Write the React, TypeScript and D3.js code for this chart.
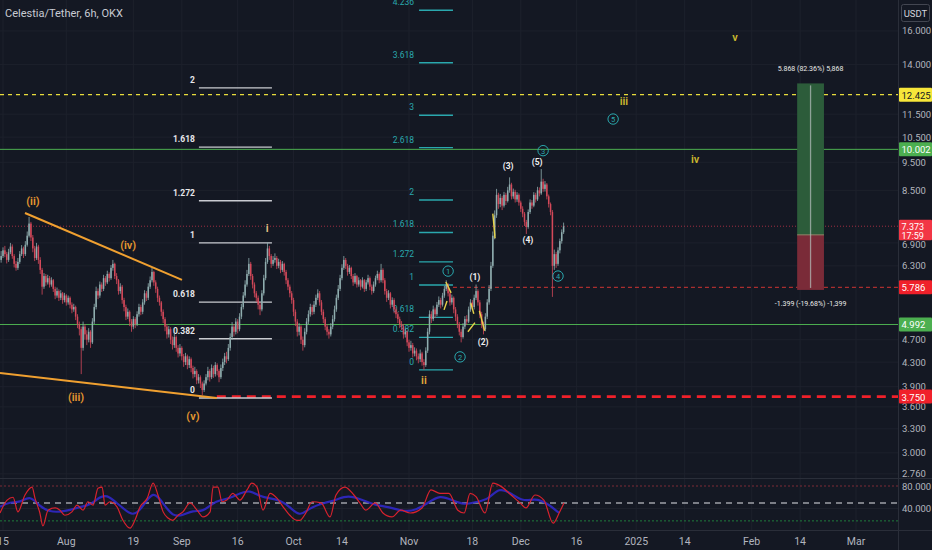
import React from 'react';
import * as d3 from 'd3';

// ---------- DATA ----------
const candleStartUTC = Date.UTC(2024, 6, 14, 12); // 12h candles
const candleStepMs = 12 * 3600 * 1000;
const firstOpen = 6.45;
const closes = [
  6.55,6.70,6.60,6.45,6.65,6.80,6.55,6.35,6.25,6.40,6.60,6.75,6.60,6.85,7.10,7.45,7.05,
  6.75,6.50,6.80,6.45,6.20,5.80,6.05,5.90,6.00,5.85,5.95,5.75,5.60,5.70,5.55,5.65,5.50,5.60,5.45,5.55,5.40,5.30,5.35,5.15,5.00,
  4.90,4.55,4.95,4.80,4.70,4.85,4.65,5.05,5.35,5.70,5.60,5.85,5.75,6.00,5.90,6.10,6.00,6.25,6.35,
  6.05,5.95,5.70,5.80,5.50,5.35,5.15,5.25,5.05,4.95,5.10,5.00,5.20,5.35,5.25,5.45,5.65,5.55,5.80,5.95,6.15,
  5.90,5.75,5.55,5.45,5.25,5.10,4.95,4.80,4.90,4.70,4.60,4.75,4.55,4.45,4.55,4.40,4.30,4.40,4.25,4.35,4.20,4.10,4.15,4.00,4.05,3.95,3.85,
  3.95,4.05,4.15,4.05,4.20,4.10,4.25,4.15,4.05,4.20,4.30,4.40,4.35,4.55,4.75,4.95,4.85,5.05,4.90,5.15,5.35,5.60,5.85,6.10,6.35,
  6.05,5.85,5.65,5.55,5.40,5.30,5.65,6.00,6.40,6.75,
  6.55,6.35,6.45,6.50,6.30,6.40,6.20,6.35,6.15,5.95,5.80,5.65,5.50,5.25,5.05,4.85,4.95,4.70,4.60,
  4.85,5.05,5.20,5.35,5.25,5.40,5.55,5.65,5.45,5.25,5.10,4.95,4.85,4.80,4.95,5.10,5.30,5.55,5.75,6.00,6.25,6.45,
  6.30,6.15,6.25,6.05,5.90,6.05,5.85,5.95,5.80,5.95,5.75,5.90,6.00,5.80,5.70,5.85,6.00,6.10,5.95,6.20,
  5.95,5.70,5.55,5.65,5.40,5.50,5.30,5.20,5.10,5.00,4.95,4.80,4.85,4.65,4.55,4.60,4.45,4.50,4.40,4.35,4.45,4.30,4.25,
  4.50,4.85,5.20,5.10,5.30,5.20,5.40,5.50,5.40,5.60,5.75,5.85,5.65,5.45,5.55,5.30,5.15,5.00,4.85,4.75,
  4.95,5.10,5.05,5.30,5.45,5.35,5.55,5.70,5.45,5.20,5.00,4.90,5.15,5.45,5.75,
  6.30,7.10,7.70,8.35,8.05,8.25,8.00,8.35,8.15,8.50,8.70,8.30,8.45,8.20,8.35,8.10,7.90,7.75,7.50,7.35,
  7.80,8.10,8.00,8.35,8.20,8.50,8.40,8.80,8.55,8.70,8.30,8.05,7.80,6.30,6.60,6.35,6.70,6.95,7.20,7.37,
];
const highs = [
  6.68,6.78,6.82,6.66,6.74,6.90,6.86,6.60,6.42,6.50,6.68,6.84,6.80,6.95,7.22,7.65,7.50,
  7.12,6.82,6.90,6.85,6.52,6.25,6.12,6.10,6.08,6.05,6.02,5.98,5.80,5.78,5.74,5.72,5.68,5.66,5.63,5.60,5.58,5.45,5.42,5.38,5.20,
  5.05,4.95,5.05,5.00,4.88,4.92,4.88,5.12,5.42,5.80,5.76,5.92,5.90,6.08,6.05,6.18,6.14,6.32,6.45,
  6.38,6.12,5.98,5.88,5.84,5.55,5.40,5.32,5.28,5.10,5.16,5.14,5.26,5.42,5.40,5.52,5.72,5.70,5.88,6.04,6.25,
  6.18,5.95,5.80,5.60,5.48,5.30,5.14,5.00,4.96,4.94,4.76,4.82,4.78,4.60,4.62,4.58,4.44,4.46,4.43,4.40,4.38,4.24,4.22,4.18,4.10,4.08,3.98,
  4.00,4.10,4.22,4.18,4.26,4.24,4.30,4.28,4.18,4.26,4.36,4.46,4.48,4.62,4.82,5.04,5.00,5.12,5.10,5.22,5.42,5.68,5.95,6.20,6.50,
  6.40,6.10,5.90,5.70,5.60,5.45,5.72,6.08,6.50,6.92,
  6.82,6.60,6.55,6.62,6.55,6.48,6.45,6.42,6.38,6.20,6.00,5.85,5.70,5.55,5.30,5.10,5.02,4.98,4.76,
  4.92,5.12,5.28,5.42,5.40,5.48,5.62,5.74,5.70,5.50,5.30,5.14,5.00,4.90,5.02,5.18,5.38,5.62,5.84,6.08,6.34,6.55,
  6.50,6.35,6.32,6.28,6.10,6.12,6.08,6.02,5.98,6.02,5.98,5.96,6.08,6.04,5.85,5.92,6.06,6.18,6.14,6.35,
  6.24,6.00,5.75,5.72,5.68,5.56,5.54,5.35,5.25,5.15,5.06,5.00,4.92,4.88,4.70,4.68,4.64,4.56,4.54,4.45,4.52,4.48,4.35,
  4.56,4.92,5.28,5.26,5.38,5.34,5.46,5.58,5.55,5.66,5.82,5.95,5.88,5.70,5.62,5.58,5.35,5.20,5.04,4.90,
  5.02,5.16,5.18,5.36,5.52,5.50,5.62,5.85,5.74,5.50,5.25,5.05,5.22,5.52,5.84,
  6.40,7.22,7.85,8.55,8.42,8.38,8.32,8.45,8.42,8.62,8.95,8.76,8.56,8.52,8.44,8.40,8.16,7.98,7.80,7.56,
  7.88,8.20,8.18,8.44,8.42,8.62,8.60,9.25,8.90,8.82,8.75,8.36,8.10,7.86,6.72,6.66,6.78,7.02,7.28,7.48,
];
const lows = [
  6.38,6.50,6.52,6.36,6.40,6.60,6.48,6.26,6.18,6.20,6.35,6.55,6.50,6.55,6.80,7.05,6.95,
  6.65,6.42,6.45,6.35,6.10,5.62,5.75,5.82,5.85,5.78,5.80,5.68,5.52,5.55,5.48,5.50,5.42,5.45,5.38,5.40,5.32,5.22,5.25,5.08,4.92,
  4.78,4.10,4.50,4.70,4.60,4.65,4.55,4.62,5.00,5.30,5.52,5.55,5.68,5.70,5.82,5.86,5.92,5.96,6.18,
  5.98,5.86,5.62,5.64,5.42,5.26,5.08,5.10,4.96,4.85,4.90,4.92,4.96,5.15,5.18,5.20,5.40,5.48,5.50,5.75,5.90,
  5.82,5.66,5.46,5.38,5.16,5.02,4.86,4.72,4.74,4.62,4.52,4.55,4.48,4.38,4.40,4.33,4.22,4.25,4.18,4.20,4.13,4.03,4.05,3.94,3.95,3.88,3.77,
  3.82,3.92,4.00,3.98,4.02,4.04,4.06,4.08,3.97,4.02,4.15,4.25,4.28,4.32,4.50,4.70,4.76,4.80,4.82,4.86,5.10,5.30,5.55,5.80,6.05,
  5.96,5.76,5.56,5.46,5.30,5.18,5.26,5.60,5.95,6.35,
  6.45,6.25,6.30,6.38,6.22,6.24,6.12,6.15,6.06,5.86,5.72,5.56,5.42,5.16,4.96,4.76,4.78,4.62,4.50,
  4.56,4.80,5.00,5.15,5.18,5.20,5.35,5.50,5.38,5.18,5.02,4.88,4.78,4.72,4.76,4.90,5.05,5.25,5.50,5.70,5.95,6.20,
  6.22,6.06,6.10,5.98,5.82,5.86,5.78,5.80,5.72,5.76,5.68,5.70,5.85,5.72,5.62,5.66,5.80,5.95,5.88,5.90,
  5.88,5.62,5.46,5.50,5.32,5.35,5.22,5.12,5.02,4.92,4.88,4.72,4.74,4.58,4.48,4.50,4.38,4.40,4.33,4.28,4.30,4.24,4.17,
  4.22,4.46,4.80,5.02,5.06,5.12,5.16,5.35,5.32,5.36,5.55,5.70,5.58,5.38,5.40,5.22,5.06,4.92,4.78,4.65,
  4.72,4.90,4.98,5.02,5.25,5.28,5.30,5.50,5.38,5.12,4.92,4.80,4.86,5.10,5.40,
  5.70,6.25,7.00,7.62,7.90,7.95,7.86,7.94,8.02,8.10,8.42,8.20,8.22,8.10,8.12,8.00,7.80,7.64,7.38,7.15,
  7.30,7.74,7.90,7.95,8.10,8.15,8.30,8.35,8.45,8.46,8.20,7.94,7.70,5.57,6.20,6.25,6.30,6.62,6.88,7.15,
];

// RSI (days since 2024-07-15, value)
const rsiDays = [-0.8,1.1,2.7,4.0,5.9,7.8,8.6,9.9,10.7,12.1,14.0,15.3,16.6,18.5,19.9,21.5,22.8,24.2,25.5,26.6,27.4,28.7,30.6,32.2,34.1,35.4,36.8,38.7,40.3,41.6,43.0,44.3,45.6,47.0,48.3,50.2,52.1,53.7,55.6,56.4,57.7,58.8,60.1,61.7,63.6,65.5,66.8,68.2,69.8,71.7,73.6,75.2,77.0,78.9,79.7,81.3,83.0,85.4,87.8,89.4,91.8,94.2,95.8,97.4,99.9,102.0,104.4,106.8,109.3,112.5,114.9,117.3,119.7,122.1,123.8,125.4,127.0,129.4,131.5,134.0,136.4,138.8,140.4,142.8,145.2,147.7,149.3,150.6];
const rsiVals = [32,55,60,34,64,78,58,32,9,37,41,37,28,34,46,37,52,46,76,78,46,52,43,19,5,19,43,58,85,64,34,23,19,28,34,50,37,25,34,78,78,52,55,67,55,73,85,78,37,67,58,43,28,19,19,32,52,50,25,64,78,64,50,37,50,32,25,37,32,41,73,67,67,37,32,67,61,32,85,78,64,50,41,64,55,14,32,50];
const rsiMaDays = [-0.8,1.9,4.6,7.3,9.9,12.6,15.3,18.0,20.7,23.4,26.0,27.9,30.1,32.2,34.9,37.6,40.3,42.9,45.6,48.3,51.0,53.7,56.4,58.3,60.9,63.6,66.3,69.0,71.7,74.4,77.0,79.7,82.2,86.2,89.4,92.6,96.6,99.9,103.6,107.7,110.9,114.1,117.3,120.5,123.8,127.0,130.2,133.2,136.4,139.6,142.8,146.0,149.3];
const rsiMaVals = [43,52,50,64,43,34,34,37,43,46,61,64,52,41,25,43,73,50,25,28,37,34,50,55,58,67,73,61,58,55,43,25,41,50,55,64,55,46,43,34,37,50,64,55,46,52,55,78,67,52,58,50,32];
const rsiLevels = { upper: 80, middle: 50, lower: 18 };

const priceTicks = [16, 14, 11.5, 10.5, 9.5, 8.5, 6.9, 6.3, 4.7, 4.3, 3.9, 3.6, 3.3, 3.0, 2.76];
const timeTickDates = ['2024-07-15','2024-08-01','2024-08-19','2024-09-01','2024-09-16','2024-10-01','2024-10-14','2024-11-01','2024-11-18','2024-12-01','2024-12-16','2025-01-01','2025-01-14','2025-02-01','2025-02-14','2025-03-01'];
const timeTickLabels = ['15','Aug','19','Sep','16','Oct','14','Nov','18','Dec','16','2025','14','Feb','14','Mar'];

const lastPrice = 7.373;
const resistanceHigh = 12.425;
const resistanceMid = 10.002;
const supportMid = 4.992;
const stopLevel = 5.786;
const invalidation = 3.75;

const fibLevels1 = [0, 0.382, 0.618, 1, 1.272, 1.618, 2];
const fibLevels2 = [0, 0.382, 0.618, 1, 1.272, 1.618, 2, 2.618, 3, 3.618, 4.236];
const fib1 = { startDay: 52.6, endDay: 72.2, low: 3.73, high: 6.90 };
const fib2 = { startDay: 111.7, endDay: 120.8, low: 4.17, high: 5.84 };

// wedge trend lines [day, price]
const wedgeUpper = [[5.9, 7.77], [48.05, 5.96]];
const wedgeLower = [[-0.8, 4.12], [57.4, 3.73]];

// wave labels [text, day, price]
const orangeWaves = [['(ii)', 8.05, 8.12], ['(iii)', 19.6, 3.74], ['(iv)', 33.6, 6.84], ['(v)', 51.0, 3.47]];
const yellowWaves = [['i', 70.9, 7.32], ['ii', 113.0, 3.99], ['iii', 166.7, 12.07], ['iv', 185.8, 9.59], ['v', 196.5, 15.56]];
const whiteWaves = [['(1)', 126.7, 6.03], ['(2)', 128.9, 4.66], ['(3)', 135.6, 9.36], ['(4)', 140.9, 6.98], ['(5)', 143.4, 9.52]];
const circleWaves = [['1', 119.5, 6.17], ['2', 122.7, 4.39], ['3', 145.0, 9.95], ['4', 149.0, 6.05], ['5', 163.8, 11.28]];
const subWaveSegs = [
  [118.9, 5.91, 120.3, 5.66], [119.2, 5.48, 118.4, 5.29], [124.8, 4.85, 126.7, 5.03],
  [125.6, 5.43, 126.4, 5.21], [127.9, 5.27, 129.3, 4.87], [131.5, 7.75, 132.1, 7.03],
];

const position = { startDay: 213.2, endDay: 220.4, entry: 7.125, target: 12.993, stop: 5.726 };
const positionTopText = '5.868 (82.36%) 5,868';
const positionBottomText = '-1.399 (-19.68%) -1,399';

// ---------- CHART ----------
const W = 932, H = 550;
const PLOT_R = 898, MAIN_B = 478, RSI_T = 479, RSI_B = 530;
const BG = '#141823';
const GRID = '#1d212c';
const TXT = '#b2b5be';
const TEAL = '#2aa8ae';
const ORANGE = '#f0a030';
const FONT = 'Roboto, "Noto Sans", sans-serif';
const AXF = 9.5;

export default function App() {
  const t0 = Date.UTC(2024, 6, 15);
  const x = d3.scaleUtc().domain([new Date(t0), new Date(Date.UTC(2025, 2, 1))]).range([3, 856]);
  const y = d3.scaleLog().domain([18.09, 2.715]).range([0, MAIN_B]);
  const ry = d3.scaleLinear().domain([40, 80]).range([508.5, 486]);
  const xd = (d: number) => x(new Date(t0 + d * 864e5));

  const candles = closes.map((c, i) => {
    const o = i === 0 ? firstOpen : closes[i - 1];
    return {
      t: new Date(candleStartUTC + i * candleStepMs), o, c,
      h: Math.max(highs[i], o, c), l: Math.min(lows[i], o, c),
    };
  });

  const rsiLine = d3.line<number>().x((_, i) => xd(rsiDays[i])).y((v) => ry(v)).curve(d3.curveMonotoneX);
  const rsiMaLine = d3.line<number>().x((_, i) => xd(rsiMaDays[i])).y((v) => ry(v)).curve(d3.curveBasis);

  const fibPrice = (f: any, r: number) => Math.exp(Math.log(f.low) + r * (Math.log(f.high) - Math.log(f.low)));

  const priceLabel = (p: number, bg: string, fg: string, key: string) => (
    <g key={key}>
      <rect x={899} y={y(p) - 7} width={33} height={14} fill={bg} rx={1} />
      <text x={901.5} y={y(p) + 0.5} fill={fg} fontSize={AXF} dominantBaseline="central" fontFamily={FONT}>{p.toFixed(3)}</text>
    </g>
  );

  const px0 = xd(position.startDay), px1 = xd(position.endDay), pxm = (px0 + px1) / 2;

  return (
    <div style={{ position: 'fixed', left: 0, top: 0, width: W, height: H, background: BG }}>
      <style>{`body{margin:0;background:${BG}}`}</style>
      <svg width={W} height={H} style={{ display: 'block' }} fontFamily={FONT}>
        <defs>
          <clipPath id="mainClip"><rect x={0} y={0} width={PLOT_R} height={MAIN_B} /></clipPath>
          <clipPath id="rsiClip"><rect x={0} y={RSI_T} width={PLOT_R} height={RSI_B - RSI_T} /></clipPath>
        </defs>
        <rect width={W} height={H} fill={BG} />

        {/* grid */}
        {timeTickDates.map((d, i) => (
          <line key={'vg' + i} x1={x(new Date(d + 'T00:00:00Z'))} x2={x(new Date(d + 'T00:00:00Z'))} y1={0} y2={RSI_B} stroke={GRID} strokeWidth={1} />
        ))}
        {priceTicks.map((p, i) => (
          <line key={'hg' + i} x1={0} x2={PLOT_R} y1={y(p)} y2={y(p)} stroke={GRID} strokeWidth={1} />
        ))}
        <line x1={0} x2={PLOT_R} y1={ry(40)} y2={ry(40)} stroke={GRID} />

        <g clipPath="url(#mainClip)">
          {/* horizontal levels */}
          <line x1={0} x2={PLOT_R} y1={y(resistanceHigh)} y2={y(resistanceHigh)} stroke="#e8dc3c" strokeWidth={1.2} strokeDasharray="4 4" />
          <line x1={0} x2={PLOT_R} y1={y(resistanceMid)} y2={y(resistanceMid)} stroke="#4caf50" strokeWidth={1} />
          <line x1={0} x2={PLOT_R} y1={y(supportMid)} y2={y(supportMid)} stroke="#4caf50" strokeWidth={1} />
          <line x1={0} x2={PLOT_R} y1={y(lastPrice)} y2={y(lastPrice)} stroke="#c2334a" strokeWidth={1} strokeDasharray="1 2" opacity={0.8} />
          <line x1={xd(fib2.endDay)} x2={PLOT_R} y1={y(stopLevel)} y2={y(stopLevel)} stroke="#e53935" strokeWidth={1} strokeDasharray="4 3" opacity={0.9} />
          <line x1={xd(57.4)} x2={PLOT_R} y1={y(invalidation)} y2={y(invalidation)} stroke="#f0202a" strokeWidth={2.6} strokeDasharray="9 6" />

          {/* fib 1 */}
          {fibLevels1.map((r) => {
            const yy = y(fibPrice(fib1, r));
            return (
              <g key={'f1' + r}>
                <line x1={xd(fib1.startDay)} x2={xd(fib1.endDay)} y1={yy} y2={yy} stroke="#c9cbd1" strokeWidth={1.4} />
                <text x={xd(fib1.startDay) - 4} y={yy - 8} fill="#e6e7ea" fontSize={8.5} fontWeight={700} textAnchor="end" dominantBaseline="central">{String(r)}</text>
              </g>
            );
          })}
          {/* fib 2 */}
          {fibLevels2.map((r) => {
            const yy = y(fibPrice(fib2, r));
            return (
              <g key={'f2' + r}>
                <line x1={xd(fib2.startDay)} x2={xd(fib2.endDay)} y1={yy} y2={yy} stroke={TEAL} strokeWidth={1.4} />
                <text x={xd(fib2.startDay) - 5} y={yy - 8} fill={TEAL} fontSize={8.5} textAnchor="end" dominantBaseline="central">{String(r)}</text>
              </g>
            );
          })}

          {/* candles */}
          {candles.map((k, i) => {
            const cx = x(k.t);
            const up = k.c >= k.o;
            const col = up ? '#8fadaf' : '#d4495a';
            const top = y(Math.max(k.o, k.c)), bot = y(Math.min(k.o, k.c));
            return (
              <g key={'c' + i}>
                <line x1={cx} x2={cx} y1={y(k.h)} y2={y(k.l)} stroke={col} strokeWidth={0.8} />
                <rect x={cx - 0.75} y={top} width={1.5} height={Math.max(0.8, bot - top)} fill={col} />
              </g>
            );
          })}

          {/* wedge */}
          <line x1={xd(wedgeUpper[0][0])} y1={y(wedgeUpper[0][1])} x2={xd(wedgeUpper[1][0])} y2={y(wedgeUpper[1][1])} stroke={ORANGE} strokeWidth={2} />
          <line x1={xd(wedgeLower[0][0])} y1={y(wedgeLower[0][1])} x2={xd(wedgeLower[1][0])} y2={y(wedgeLower[1][1])} stroke={ORANGE} strokeWidth={2} />

          {/* sub wave segments */}
          {subWaveSegs.map((s, i) => (
            <line key={'sw' + i} x1={xd(s[0])} y1={y(s[1])} x2={xd(s[2])} y2={y(s[3])} stroke="#e8d44a" strokeWidth={1.4} />
          ))}

          {/* position tool */}
          <rect x={px0} y={y(position.target)} width={px1 - px0} height={y(position.entry) - y(position.target)} fill="#2c5c3a" />
          <rect x={px0} y={y(position.entry)} width={px1 - px0} height={y(position.stop) - y(position.entry)} fill="#7a2b38" />
          <line x1={px0} x2={px1} y1={y(position.entry)} y2={y(position.entry)} stroke="#8e8a6a" strokeWidth={1} />
          <line x1={pxm} x2={pxm} y1={y(position.target) + 2} y2={y(position.stop) - 2} stroke="#b8c2c0" strokeWidth={1.3} opacity={0.7} />
          <text x={pxm} y={y(position.target) - 14} fill="#e8e8e8" fontSize={7} textAnchor="middle" dominantBaseline="central">{positionTopText}</text>
          <text x={pxm} y={y(position.stop) + 14} fill="#e8e8e8" fontSize={7} textAnchor="middle" dominantBaseline="central">{positionBottomText}</text>

          {/* wave labels */}
          {orangeWaves.map((w: any) => (
            <text key={'ow' + w[0]} x={xd(w[1])} y={y(w[2])} fill="#e89a30" fontSize={11} fontWeight={600} textAnchor="middle" dominantBaseline="central">{w[0]}</text>
          ))}
          {yellowWaves.map((w: any, i) => (
            <text key={'yw' + w[0]} x={xd(w[1])} y={y(w[2])} fill={i === 0 ? '#e8c485' : i === 1 ? '#e0a93a' : '#cbb82e'} fontSize={11} fontWeight={600} textAnchor="middle" dominantBaseline="central">{w[0]}</text>
          ))}
          {whiteWaves.map((w: any) => (
            <text key={'ww' + w[0]} x={xd(w[1])} y={y(w[2])} fill="#f0f0f0" fontSize={8.5} fontWeight={700} textAnchor="middle" dominantBaseline="central">{w[0]}</text>
          ))}
          {circleWaves.map((w: any) => (
            <g key={'cw' + w[0]}>
              <circle cx={xd(w[1])} cy={y(w[2])} r={5.2} fill="none" stroke={TEAL} strokeWidth={1} />
              <text x={xd(w[1])} y={y(w[2]) + 0.5} fill={TEAL} fontSize={7.5} textAnchor="middle" dominantBaseline="central">{w[0]}</text>
            </g>
          ))}
        </g>

        {/* title */}
        <text x={5} y={13} fill="#c8cbd3" fontSize={11} dominantBaseline="central">Celestia/Tether, 6h, OKX</text>

        {/* RSI pane */}
        <line x1={0} x2={W} y1={MAIN_B + 0.5} y2={MAIN_B + 0.5} stroke="#2a2e39" />
        <g clipPath="url(#rsiClip)">
          <line x1={0} x2={PLOT_R} y1={ry(rsiLevels.upper)} y2={ry(rsiLevels.upper)} stroke="#7c2b36" strokeWidth={1} strokeDasharray="2 2" />
          <line x1={0} x2={PLOT_R} y1={ry(rsiLevels.middle)} y2={ry(rsiLevels.middle)} stroke="#9da0a8" strokeWidth={1.5} strokeDasharray="6 5" />
          <line x1={0} x2={PLOT_R} y1={ry(rsiLevels.lower)} y2={ry(rsiLevels.lower)} stroke="#1f7a3c" strokeWidth={1} strokeDasharray="2 2" />
          <path d={rsiMaLine(rsiMaVals) || ''} fill="none" stroke="#3028c8" strokeWidth={2.2} opacity={0.9} />
          <path d={rsiLine(rsiVals) || ''} fill="none" stroke="#d8222e" strokeWidth={1.2} />
        </g>
        <line x1={0} x2={W} y1={RSI_B + 0.5} y2={RSI_B + 0.5} stroke="#2a2e39" />

        {/* right axis */}
        <line x1={PLOT_R + 0.5} x2={PLOT_R + 0.5} y1={0} y2={H} stroke="#2a2e39" />
        {priceTicks.map((p, i) => (
          <text key={'pt' + i} x={902} y={y(p) + (p === 6.9 ? 2 : 0)} fill={TXT} fontSize={AXF} dominantBaseline="central">{p.toFixed(3)}</text>
        ))}
        <text x={902} y={ry(80)} fill={TXT} fontSize={AXF} dominantBaseline="central">80.000</text>
        <text x={902} y={ry(40)} fill={TXT} fontSize={AXF} dominantBaseline="central">40.000</text>
        <rect x={901.5} y={4.5} width={28} height={17} fill={BG} stroke="#434651" rx={2} />
        <text x={915.5} y={13} fill="#d1d4dc" fontSize={9.5} textAnchor="middle" dominantBaseline="central">USDT</text>

        {priceLabel(resistanceHigh, '#f7e63a', '#131722', 'l1')}
        {priceLabel(resistanceMid, '#4caf50', '#ffffff', 'l2')}
        {priceLabel(supportMid, '#4caf50', '#ffffff', 'l3')}
        {priceLabel(stopLevel, '#f0202a', '#ffffff', 'l4')}
        {priceLabel(invalidation, '#f0202a', '#ffffff', 'l5')}
        <g>
          <rect x={899} y={y(lastPrice) - 6.5} width={33} height={20.5} fill="#f23645" rx={1} />
          <text x={901.5} y={y(lastPrice) + 1} fill="#fff" fontSize={9} dominantBaseline="central">{lastPrice.toFixed(3)}</text>
          <text x={901.5} y={y(lastPrice) + 9.8} fill="#fff" fontSize={9} dominantBaseline="central">17:59</text>
        </g>

        {/* time axis */}
        {timeTickDates.map((d, i) => (
          <text key={'tt' + i} x={x(new Date(d + 'T00:00:00Z'))} y={541} fill={TXT} fontSize={10.5} textAnchor="middle" dominantBaseline="central">{timeTickLabels[i]}</text>
        ))}
      </svg>
    </div>
  );
}
